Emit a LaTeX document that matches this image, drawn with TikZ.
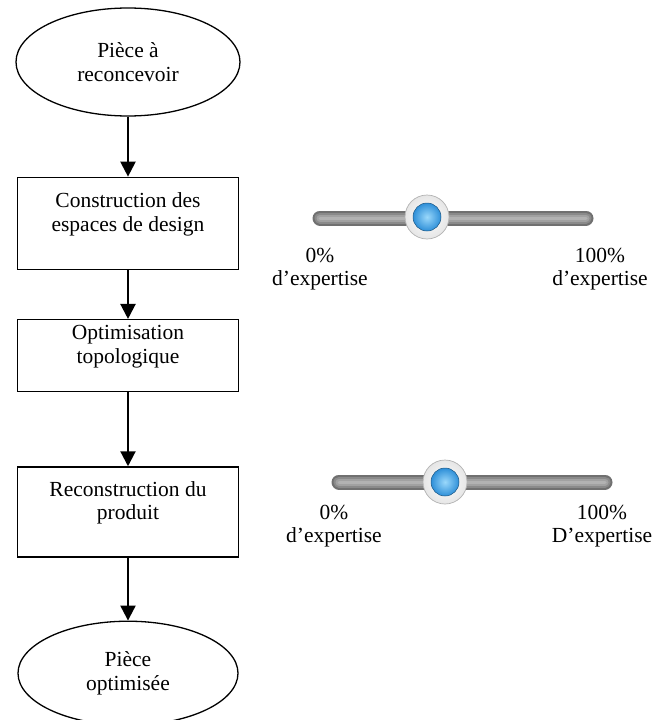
\documentclass[tikz,border=0pt]{standalone}
\usepackage{fontspec}
\setmainfont{Liberation Serif}
\usepackage{tikz,xcolor}
\usetikzlibrary{positioning,shapes.geometric,arrows.meta}
\definecolor{knobblue}{HTML}{2E8FD8}
\definecolor{knoblight}{HTML}{9AD8FB}
\tikzset{
    ovalnode/.style={ % requires library shapes.geometric
        draw,
        ellipse,
        fill=white,
        line width=1.3pt,
        align=center,
        inner sep=0pt,
        minimum width=224pt,
        minimum height=108pt
    },
    boxnode/.style={
        draw,
        rectangle,
        line width=1.3pt,
        inner sep=0pt,
        minimum width=221pt
    },
    flowarrow/.style={
        -{Triangle[length=15pt,width=15pt]},
        line width=2.2pt
    },
    scalenode/.style={
        align=center,
        inner sep=0pt
    },
    barline/.style={
        preaction={draw, line cap=round, line width=15pt, black!56},
        preaction={draw, line cap=round, line width=11pt, black!46},
        preaction={draw, line cap=round, line width=7pt, black!37},
        draw, line cap=round, line width=3pt, black!30
    }
}

\begin{document}
\begin{tikzpicture}[x=1pt,y=-1pt,font=\fontsize{21.5}{23.5}\selectfont]
        \useasboundingbox (0,0) rectangle (666,720);
        \def\lift{9pt}
        \node[ovalnode] (start) at (128,62) {Pièce à\\reconcevoir};
        \node[boxnode, minimum height=92pt, below=60pt of start] (design) {};
        \node[boxnode, minimum height=72pt, below=49pt of design] (topo) {};
        \node[boxnode, minimum height=90pt, below=74pt of topo] (rebuild) {};
        \node[ovalnode, minimum width=220pt, minimum height=104pt, below=63pt of rebuild] (final) {Pièce\\optimisée};
        
        \node[scalenode] (designtext) at ([yshift=\lift]design.center) {Construction des\\espaces de design};
        \node[scalenode] (topotext) at ([yshift=\lift]topo.center) {Optimisation\\topologique};
        \node[scalenode] (rebuildtext) at ([yshift=\lift]rebuild.center) {Reconstruction du\\produit};
        
        \draw[flowarrow] (start) -- (design);
        \draw[flowarrow] (design) -- (topo);
        \draw[flowarrow] (topo) -- (rebuild);
        \draw[flowarrow] (rebuild) -- (final);
        
        % first slider
        \path[barline] (320,218) -- (586,218);
        \shade[draw=black!30, line width=0.7pt, inner color=white, outer color=black!10] (427,217) circle (22pt);
        \shade[draw=knobblue!60!black, line width=0.5pt, inner color=knoblight, outer color=knobblue] (427,217) circle (14pt);
        \node[scalenode] (lowA) at (320,269) {0\%\\d’expertise};
        \node[scalenode] (highA) at (600,269) {100\%\\d’expertise};
        
        % second slider
        \path[barline] (339,482) -- (605,482);
        \shade[draw=black!30, line width=0.7pt, inner color=white, outer color=black!10] (445,482) circle (22pt);
        \shade[draw=knobblue!60!black, line width=0.5pt, inner color=knoblight, outer color=knobblue] (445,482) circle (14pt);
        \node[scalenode] (lowB) at (334,526) {0\%\\d’expertise};
        \node[scalenode] (highB) at (602,526) {100\%\\D’expertise};
    \end{tikzpicture}
\end{document}
